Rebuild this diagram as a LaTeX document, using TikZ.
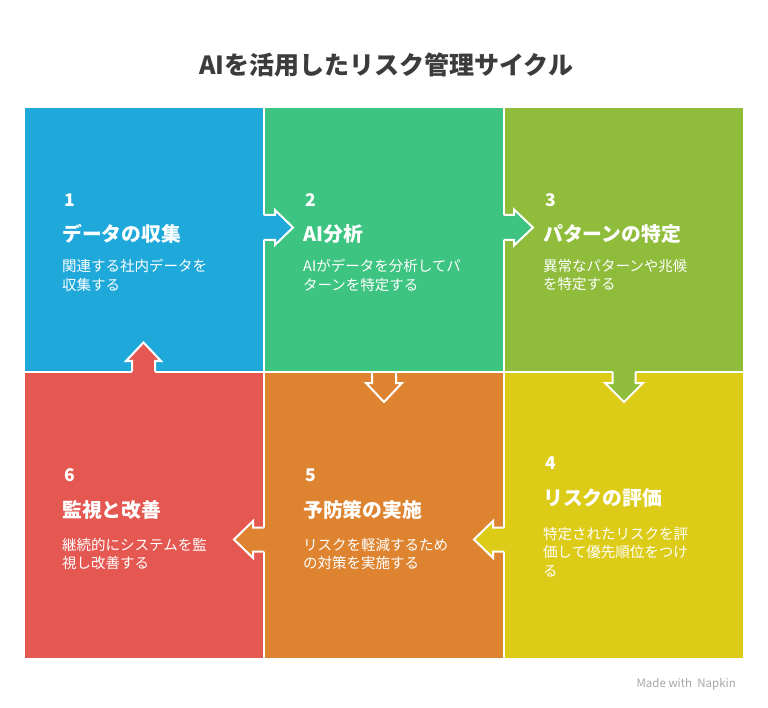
\documentclass[tikz,border=0pt]{standalone}
\usepackage{fontspec}
\setmainfont{Noto Sans CJK JP}
\usepackage{tikz}

\definecolor{cellblue}{HTML}{1FA9DA}
\definecolor{cellgreen}{HTML}{3EC481}
\definecolor{cellolive}{HTML}{8FBD3B}
\definecolor{cellyellow}{HTML}{DCCB17}
\definecolor{cellorange}{HTML}{DE8431}
\definecolor{cellred}{HTML}{E55852}
\definecolor{titlegray}{HTML}{3C3C3C}

\tikzset{
  num/.style={anchor=west, inner sep=0pt, text=white, font=\fontsize{17.5}{18}\selectfont\bfseries},
  head/.style={anchor=west, inner sep=0pt, text=white, font=\fontsize{19.8}{20}\selectfont\bfseries},
  desc/.style={anchor=north west, inner sep=0pt, align=left, text=white, font=\fontsize{14.5}{18.5}\selectfont},
  arrowline/.style={draw=white, line width=2pt, line join=miter},
}

\begin{document}
\begin{tikzpicture}[x=1pt, y=-1pt]
        \useasboundingbox (0,0) rectangle (768,708);

        % title
        \node[text=titlegray, font=\fontsize{25}{26}\selectfont\bfseries] (title) at (386,65) {AIを活用したリスク管理サイクル};

        % cells
        \fill[cellblue]   (25,108)  rectangle (264,371);
        \fill[cellgreen]  (264,108) rectangle (504,371);
        \fill[cellolive]  (504,108) rectangle (743,371);
        \fill[cellred]    (25,371)  rectangle (264,658);
        \fill[cellorange] (264,371) rectangle (504,658);
        \fill[cellyellow] (504,371) rectangle (743,658);

        % separators
        \draw[white, line width=2pt] (263.5,108) -- (263.5,658);
        \draw[white, line width=2pt] (503.5,108) -- (503.5,658);
        \draw[white, line width=2pt] (25,371.5) -- (743,371.5);

        % arrow 1 -> 2
        \fill[cellblue] (262,215) -- (275,215) -- (275,210) -- (293,227.5) -- (275,245) -- (275,240) -- (262,240) -- cycle;
        \draw[arrowline] (263.5,215) -- (275,215) -- (275,210) -- (293,227.5) -- (275,245) -- (275,240) -- (263.5,240);

        % arrow 2 -> 3
        \fill[cellgreen] (502,215) -- (514,215) -- (514,209.5) -- (533,227.5) -- (514,245.5) -- (514,240) -- (502,240) -- cycle;
        \draw[arrowline] (503.5,215) -- (514,215) -- (514,209.5) -- (533,227.5) -- (514,245.5) -- (514,240) -- (503.5,240);

        % arrow 3 -> 4
        \fill[cellolive] (612.5,370) -- (612.5,383) -- (605,383) -- (624,402) -- (643,383) -- (635.5,383) -- (635.5,370) -- cycle;
        \draw[arrowline] (612.5,371.5) -- (612.5,383) -- (605,383) -- (624,402) -- (643,383) -- (635.5,383) -- (635.5,371.5);

        % arrow 2 -> 5
        \draw[arrowline, fill=cellorange] (372,371.5) -- (372,383) -- (366,383) -- (384,402) -- (402,383) -- (396,383) -- (396,371.5);
        \draw[white, line width=2pt] (360,371.5) -- (408,371.5);

        % arrow 4 -> 5
        \fill[cellyellow] (505,527.5) -- (493,527.5) -- (493,521) -- (474,539.5) -- (493,558) -- (493,551.5) -- (505,551.5) -- cycle;
        \draw[arrowline] (503.5,527.5) -- (493,527.5) -- (493,521) -- (474,539.5) -- (493,558) -- (493,551.5) -- (503.5,551.5);

        % arrow 5 -> 6
        \fill[cellorange] (265,527.5) -- (253,527.5) -- (253,521) -- (234,539.5) -- (253,558) -- (253,551.5) -- (265,551.5) -- cycle;
        \draw[arrowline] (263.5,527.5) -- (253,527.5) -- (253,521) -- (234,539.5) -- (253,558) -- (253,551.5) -- (263.5,551.5);

        % arrow 6 -> 1
        \fill[cellred] (132,373) -- (132,361) -- (126,361) -- (143.5,342.5) -- (161,361) -- (155,361) -- (155,373) -- cycle;
        \draw[arrowline] (132,371.5) -- (132,361) -- (126,361) -- (143.5,342.5) -- (161,361) -- (155,361) -- (155,371.5);

        % cell 1
        \node[num]  (n1) at (64,200) {1};
        \node[head] (h1) at (62,234) {データの収集};
        \node[desc] (d1) at (62,259) {関連する社内データを\\収集する};

        % cell 2
        \node[num]  (n2) at (305,200) {2};
        \node[head] (h2) at (303,234) {AI分析};
        \node[desc] (d2) at (303,259) {AIがデータを分析してパ\\ターンを特定する};

        % cell 3
        \node[num]  (n3) at (545,200) {3};
        \node[head] (h3) at (543,234) {パターンの特定};
        \node[desc] (d3) at (543,259) {異常なパターンや兆候\\を特定する};

        % cell 4
        \node[num]  (n4) at (545,463) {4};
        \node[head] (h4) at (543,497.5) {リスクの評価};
        \node[desc] (d4) at (543,527) {特定されたリスクを評\\価して優先順位をつけ\\る};

        % cell 5
        \node[num]  (n5) at (305,475.5) {5};
        \node[head] (h5) at (303,510) {予防策の実施};
        \node[desc] (d5) at (303,538) {リスクを軽減するため\\の対策を実施する};

        % cell 6
        \node[num]  (n6) at (64,475.5) {6};
        \node[head] (h6) at (62,510) {監視と改善};
        \node[desc] (d6) at (62,538) {継続的にシステムを監\\視し改善する};

        % footer
        \node[anchor=east, inner sep=0pt, text=black!35, font=\fontsize{11.5}{12}\selectfont] (credit) at (736,684) {Made with \ Napkin};

\end{tikzpicture}
\end{document}
